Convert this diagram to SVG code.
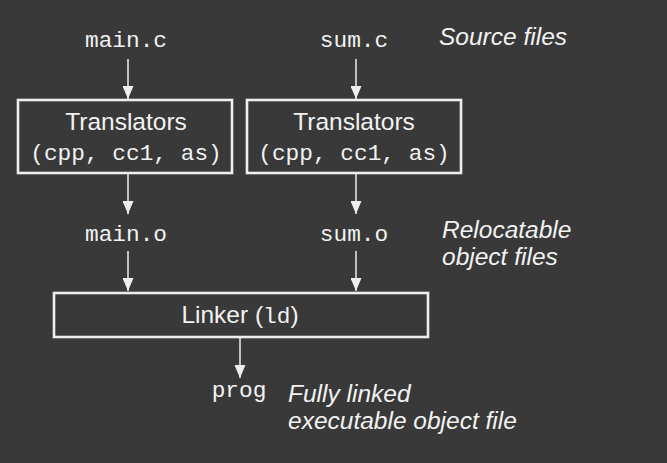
<svg xmlns="http://www.w3.org/2000/svg" width="667" height="463" viewBox="0 0 667 463">
<style>
.mono{font-family:"Liberation Mono","Courier New",monospace;font-size:22.8px;fill:#f2f2f2;text-anchor:middle}
.sans{font-family:"Liberation Sans",Arial,sans-serif;font-size:24.5px;fill:#f2f2f2;text-anchor:middle}
.note{font-family:"Liberation Sans",Arial,sans-serif;font-size:24.5px;font-style:italic;fill:#f2f2f2}
.box{fill:none;stroke:#eeeeee;stroke-width:2.6}
.conn{stroke:#eeeeee;stroke-width:1.5;fill:none;marker-end:url(#ah)}
</style>
<defs>
<marker id="ah" markerWidth="13" markerHeight="11" refX="13" refY="5.5" orient="auto" markerUnits="userSpaceOnUse">
<path d="M0,0 L13,5.5 L0,11 Z" fill="#eeeeee"/>
</marker>
</defs>
<rect x="0" y="0" width="667" height="463" fill="#393939"/>
<g id="connectors">
<line class="conn" x1="128" y1="59" x2="128" y2="99"/>
<line class="conn" x1="356" y1="59" x2="356" y2="99"/>
<line class="conn" x1="128" y1="174" x2="128" y2="214"/>
<line class="conn" x1="356" y1="174" x2="356" y2="214"/>
<line class="conn" x1="128" y1="251" x2="128" y2="291"/>
<line class="conn" x1="356" y1="251" x2="356" y2="291"/>
<line class="conn" x1="240" y1="337" x2="240" y2="378"/>
</g>
<g id="main_c"><text class="mono" x="126" y="47">main.c</text></g>
<g id="sum_c"><text class="mono" x="354" y="47">sum.c</text></g>
<g id="source_label"><text class="note" x="439" y="45">Source files</text></g>
<g id="translators1">
<rect class="box" x="18" y="100" width="214" height="73"/>
<text class="sans" x="126" y="130">Translators</text>
<text class="mono" x="126" y="160">(cpp, cc1, as)</text>
</g>
<g id="translators2">
<rect class="box" x="247" y="100" width="214" height="73"/>
<text class="sans" x="354" y="130">Translators</text>
<text class="mono" x="354" y="160">(cpp, cc1, as)</text>
</g>
<g id="main_o"><text class="mono" x="126" y="241">main.o</text></g>
<g id="sum_o"><text class="mono" x="354" y="241">sum.o</text></g>
<g id="reloc_label">
<text class="note" x="442" y="238">Relocatable</text>
<text class="note" x="442" y="265">object files</text>
</g>
<g id="linker">
<rect class="box" x="54" y="293" width="374" height="44"/>
<text class="sans" x="240" y="323">Linker (<tspan style="font-family:'Liberation Mono','Courier New',monospace;font-size:22.8px">ld</tspan>)</text>
</g>
<g id="prog"><text class="mono" x="239" y="397">prog</text></g>
<g id="exec_label">
<text class="note" x="288" y="402">Fully linked</text>
<text class="note" x="288" y="429">executable object file</text>
</g>
</svg>
